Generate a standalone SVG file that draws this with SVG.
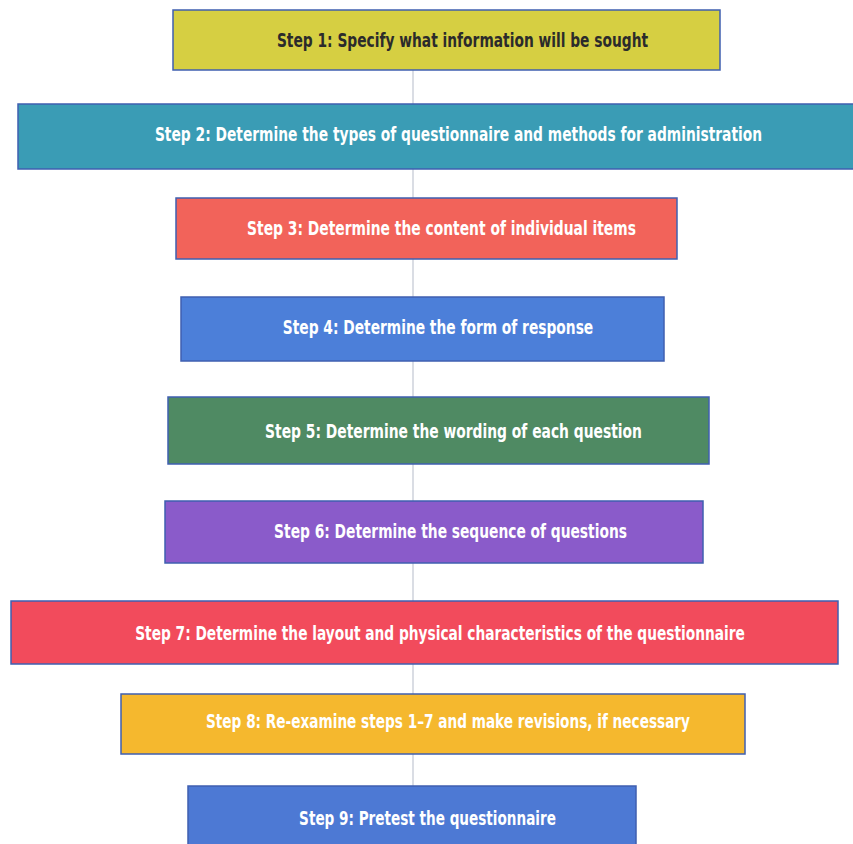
<svg xmlns="http://www.w3.org/2000/svg" width="853" height="844" viewBox="0 0 853 844">
<style>
.box{stroke:#3f5fb0;stroke-width:1.5}
.t{font-family:"Liberation Sans Narrow","DejaVu Sans Condensed","Liberation Sans",sans-serif;font-weight:bold;font-size:20px;fill:#ffffff;dominant-baseline:central;text-anchor:middle}
.dark{fill:#2b2b2b}
.conn{stroke:#c2c6d2;stroke-width:1.2;fill:none}
</style>
<rect width="853" height="844" fill="#ffffff"/>
<g id="connectors">
<line class="conn" x1="413" y1="70" x2="413" y2="104"/>
<line class="conn" x1="413" y1="169" x2="413" y2="198"/>
<line class="conn" x1="413" y1="259" x2="413" y2="297"/>
<line class="conn" x1="413" y1="361" x2="413" y2="397"/>
<line class="conn" x1="413" y1="464" x2="413" y2="501"/>
<line class="conn" x1="413" y1="563" x2="413" y2="601"/>
<line class="conn" x1="413" y1="664" x2="413" y2="694"/>
<line class="conn" x1="413" y1="754" x2="413" y2="786"/>
</g>
<g id="step1">
<rect class="box" x="173" y="10" width="547" height="60" fill="#d6cf42"/>
<text class="t dark" transform="translate(462.5,40) scale(0.8,1)" textLength="464" lengthAdjust="spacingAndGlyphs">Step 1: Specify what information will be sought</text>
</g>
<g id="step2">
<rect class="box" x="18" y="104" width="840" height="65" fill="#3a9cb5"/>
<text class="t" transform="translate(458.5,134) scale(0.8,1)" textLength="759" lengthAdjust="spacingAndGlyphs">Step 2: Determine the types of questionnaire and methods for administration</text>
</g>
<g id="step3">
<rect class="box" x="176" y="198" width="501" height="61" fill="#f2635a"/>
<text class="t" transform="translate(441.5,228) scale(0.8,1)" textLength="486" lengthAdjust="spacingAndGlyphs">Step 3: Determine the content of individual items</text>
</g>
<g id="step4">
<rect class="box" x="181" y="297" width="483" height="64" fill="#4c7fd9"/>
<text class="t" transform="translate(438,327) scale(0.8,1)" textLength="388" lengthAdjust="spacingAndGlyphs">Step 4: Determine the form of response</text>
</g>
<g id="step5">
<rect class="box" x="168" y="397" width="541" height="67" fill="#4f8a63"/>
<text class="t" transform="translate(453.5,431) scale(0.8,1)" textLength="471" lengthAdjust="spacingAndGlyphs">Step 5: Determine the wording of each question</text>
</g>
<g id="step6">
<rect class="box" x="165" y="501" width="538" height="62" fill="#8a5bca"/>
<text class="t" transform="translate(450.5,531) scale(0.8,1)" textLength="441" lengthAdjust="spacingAndGlyphs">Step 6: Determine the sequence of questions</text>
</g>
<g id="step7">
<rect class="box" x="11" y="601" width="827" height="63" fill="#f24b5c"/>
<text class="t" transform="translate(440,633) scale(0.8,1)" textLength="762" lengthAdjust="spacingAndGlyphs">Step 7: Determine the layout and physical characteristics of the questionnaire</text>
</g>
<g id="step8">
<rect class="box" x="121" y="694" width="624" height="60" fill="#f5b82e"/>
<text class="t" transform="translate(448,721) scale(0.8,1)" textLength="605" lengthAdjust="spacingAndGlyphs">Step 8: Re-examine steps 1–7 and make revisions, if necessary</text>
</g>
<g id="step9">
<rect class="box" x="188" y="786" width="448" height="66" fill="#4d79d4"/>
<text class="t" transform="translate(427.5,818) scale(0.8,1)" textLength="321" lengthAdjust="spacingAndGlyphs">Step 9: Pretest the questionnaire</text>
</g>
</svg>
